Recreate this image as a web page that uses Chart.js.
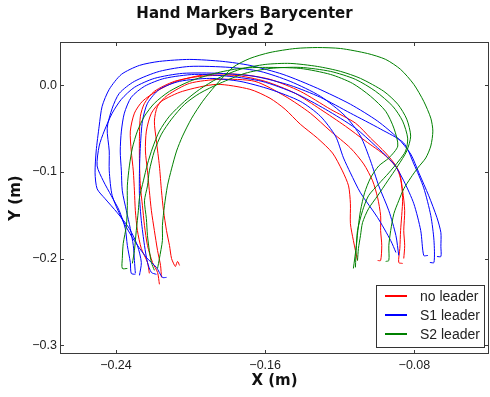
<!DOCTYPE html>
<html><head><meta charset="utf-8">
<script src="https://cdn.jsdelivr.net/npm/chart.js@4.4.1/dist/chart.umd.min.js"></script>
<style>html,body{margin:0;padding:0;background:#fff;}</style>
</head><body>
<canvas id="c" width="490" height="397" style="display:block;width:490px;height:397px"></canvas>
<script>
// ---- Data (metres) ----
const chartTitle = ['Hand Markers Barycenter', 'Dyad 2'];
const legendLabels = ['no leader', 'S1 leader', 'S2 leader'];
const xTicks = [-0.24, -0.16, -0.08];
const yTicks = [-0.3, -0.2, -0.1, 0.0];

const noLeaderX = [
  [-0.2156,-0.2161,-0.2177,-0.2194,-0.2210,-0.2221,-0.2231,-0.2242,-0.2237,-0.2210,-0.2156,-0.2043,-0.1860,-0.1682,-0.1574,-0.1493,-0.1412,-0.1320,-0.1239,-0.1186,-0.1153,-0.1143,-0.1143,-0.1127,-0.1105],
  [-0.2059,-0.2070,-0.2081,-0.2086,-0.2102,-0.2113,-0.2129,-0.2145,-0.2156,-0.2167,-0.2183,-0.2194,-0.2177,-0.2124,-0.2005,-0.1843,-0.1655,-0.1493,-0.1358,-0.1250,-0.1143,-0.1072,-0.1024,-0.0997,-0.0981,-0.0981,-0.0975,-0.0981,-0.0997],
  [-0.2221,-0.2231,-0.2264,-0.2285,-0.2296,-0.2301,-0.2307,-0.2318,-0.2323,-0.2301,-0.2258,-0.2183,-0.2075,-0.1913,-0.1735,-0.1574,-0.1412,-0.1250,-0.1116,-0.1035,-0.0954,-0.0899,-0.0874,-0.0863,-0.0868,-0.0874,-0.0878,-0.0884,-0.0863],
  [-0.2167,-0.2177,-0.2204,-0.2231,-0.2247,-0.2258,-0.2269,-0.2274,-0.2274,-0.2269,-0.2247,-0.2194,-0.2086,-0.1951,-0.1763,-0.1600,-0.1439,-0.1304,-0.1170,-0.1062,-0.0954,-0.0884,-0.0863,-0.0852,-0.0857,-0.0852,-0.0857]
];
const noLeaderY = [
  [-0.2216,-0.2078,-0.1906,-0.1676,-0.1447,-0.1217,-0.0987,-0.0758,-0.0528,-0.0321,-0.0184,-0.0069,0.0011,-0.0046,-0.0149,-0.0276,-0.0448,-0.0609,-0.0781,-0.0987,-0.1160,-0.1366,-0.1596,-0.1791,-0.2021],
  [-0.2078,-0.2032,-0.2090,-0.2078,-0.1998,-0.1848,-0.1676,-0.1447,-0.1217,-0.0930,-0.0643,-0.0413,-0.0241,-0.0115,0.0023,0.0069,0.0046,-0.0126,-0.0321,-0.0528,-0.0723,-0.0907,-0.1102,-0.1297,-0.1504,-0.1676,-0.1848,-0.2021,-0.2021],
  [-0.2170,-0.2044,-0.1883,-0.1676,-0.1447,-0.1217,-0.0987,-0.0758,-0.0528,-0.0321,-0.0184,-0.0069,0.0046,0.0126,0.0126,0.0069,-0.0069,-0.0276,-0.0436,-0.0609,-0.0781,-0.0930,-0.1079,-0.1297,-0.1504,-0.1676,-0.1883,-0.2044,-0.2055],
  [-0.2296,-0.2159,-0.2044,-0.1848,-0.1619,-0.1389,-0.1160,-0.0873,-0.0586,-0.0356,-0.0207,-0.0069,0.0046,0.0103,0.0115,0.0046,-0.0092,-0.0276,-0.0471,-0.0643,-0.0815,-0.0987,-0.1217,-0.1447,-0.1676,-0.1848,-0.1998]
];

const s1LeaderX = [
  [-0.2274,-0.2264,-0.2285,-0.2328,-0.2393,-0.2458,-0.2501,-0.2512,-0.2506,-0.2490,-0.2474,-0.2436,-0.2371,-0.2274,-0.2167,-0.2005,-0.1827,-0.1682,-0.1504,-0.1320,-0.1143,-0.0997,-0.0889,-0.0820,-0.0776,-0.0723,-0.0679,-0.0658,-0.0658,-0.0658,-0.0679],
  [-0.2296,-0.2318,-0.2323,-0.2339,-0.2350,-0.2382,-0.2425,-0.2468,-0.2501,-0.2490,-0.2463,-0.2420,-0.2371,-0.2301,-0.2194,-0.2043,-0.1843,-0.1655,-0.1466,-0.1304,-0.1143,-0.0981,-0.0857,-0.0803,-0.0750,-0.0712,-0.0695,-0.0695,-0.0717],
  [-0.2296,-0.2301,-0.2307,-0.2323,-0.2344,-0.2366,-0.2371,-0.2377,-0.2371,-0.2355,-0.2318,-0.2247,-0.2140,-0.1978,-0.1789,-0.1617,-0.1439,-0.1277,-0.1116,-0.1008,-0.0910,-0.0857,-0.0803,-0.0766,-0.0750,-0.0728],
  [-0.2183,-0.2210,-0.2231,-0.2247,-0.2264,-0.2274,-0.2274,-0.2269,-0.2258,-0.2231,-0.2167,-0.2059,-0.1897,-0.1735,-0.1574,-0.1412,-0.1304,-0.1223,-0.1180,-0.1143,-0.1089,-0.0997,-0.0927,-0.0899],
  [-0.2129,-0.2151,-0.2183,-0.2237,-0.2312,-0.2371,-0.2420,-0.2436,-0.2436,-0.2447,-0.2420,-0.2382,-0.2301,-0.2167,-0.2005,-0.1789,-0.1627,-0.1466,-0.1304,-0.1170,-0.1089,-0.1035,-0.0991,-0.0937,-0.0899,-0.0884]
];
const s1LeaderY = [
  [-0.2193,-0.2044,-0.1848,-0.1653,-0.1470,-0.1309,-0.1194,-0.1010,-0.0758,-0.0471,-0.0241,-0.0046,0.0126,0.0230,0.0276,0.0299,0.0276,0.0230,0.0126,-0.0034,-0.0218,-0.0413,-0.0609,-0.0792,-0.1010,-0.1274,-0.1527,-0.1699,-0.1860,-0.1975,-0.1975],
  [-0.2181,-0.2170,-0.2044,-0.1848,-0.1653,-0.1447,-0.1274,-0.1102,-0.0930,-0.0700,-0.0528,-0.0321,-0.0161,-0.0023,0.0080,0.0138,0.0138,0.0103,0.0000,-0.0138,-0.0321,-0.0505,-0.0666,-0.0907,-0.1183,-0.1504,-0.1791,-0.2044,-0.2044],
  [-0.2170,-0.2021,-0.1848,-0.1653,-0.1447,-0.1217,-0.0987,-0.0758,-0.0528,-0.0321,-0.0138,-0.0011,0.0080,0.0126,0.0103,0.0046,-0.0092,-0.0276,-0.0494,-0.0700,-0.0907,-0.1102,-0.1366,-0.1676,-0.1963,-0.1963],
  [-0.2181,-0.2159,-0.2044,-0.1848,-0.1561,-0.1274,-0.0987,-0.0700,-0.0413,-0.0207,-0.0046,0.0046,0.0080,0.0046,-0.0046,-0.0184,-0.0356,-0.0586,-0.0838,-0.1010,-0.1240,-0.1527,-0.1791,-0.1929],
  [-0.2216,-0.2216,-0.2101,-0.1986,-0.1757,-0.1527,-0.1274,-0.0987,-0.0758,-0.0494,-0.0264,-0.0092,0.0046,0.0161,0.0218,0.0207,0.0161,0.0046,-0.0126,-0.0356,-0.0586,-0.0873,-0.1160,-0.1447,-0.1734,-0.1963]
];

const s2LeaderX = [
  [-0.2177,-0.2167,-0.2151,-0.2151,-0.2140,-0.2124,-0.2102,-0.2075,-0.2043,-0.1994,-0.1935,-0.1870,-0.1773,-0.1682,-0.1574,-0.1439,-0.1320,-0.1196,-0.1051,-0.0954,-0.0874,-0.0803,-0.0750,-0.0712,-0.0701,-0.0712,-0.0739,-0.0782,-0.0820,-0.0857,-0.0884,-0.0910,-0.0927,-0.0937,-0.0937,-0.0954],
  [-0.2312,-0.2301,-0.2291,-0.2280,-0.2274,-0.2253,-0.2231,-0.2204,-0.2167,-0.2113,-0.2032,-0.1951,-0.1854,-0.1735,-0.1600,-0.1466,-0.1320,-0.1196,-0.1089,-0.0964,-0.0889,-0.0841,-0.0820,-0.0841,-0.0889,-0.0943,-0.0997,-0.1046,-0.1078,-0.1089,-0.1100,-0.1105],
  [-0.2339,-0.2366,-0.2366,-0.2361,-0.2344,-0.2339,-0.2339,-0.2328,-0.2312,-0.2285,-0.2247,-0.2194,-0.2113,-0.2005,-0.1870,-0.1735,-0.1600,-0.1412,-0.1250,-0.1132,-0.1035,-0.0954,-0.0910,-0.0889,-0.0937,-0.0991,-0.1035,-0.1067,-0.1089,-0.1100,-0.1111,-0.1116],
  [-0.2194,-0.2210,-0.2221,-0.2231,-0.2237,-0.2247,-0.2231,-0.2221,-0.2194,-0.2156,-0.2102,-0.2032,-0.1951,-0.1843,-0.1709,-0.1574,-0.1412,-0.1250,-0.1116,-0.1008,-0.0916,-0.0863,-0.0836,-0.0847,-0.0884,-0.0937,-0.0991,-0.1046,-0.1078,-0.1105,-0.1111,-0.1127]
];
const s2LeaderY = [
  [-0.2113,-0.1998,-0.1791,-0.1619,-0.1389,-0.1160,-0.0964,-0.0758,-0.0586,-0.0379,-0.0184,-0.0011,0.0207,0.0310,0.0379,0.0425,0.0436,0.0425,0.0367,0.0299,0.0184,0.0011,-0.0184,-0.0379,-0.0528,-0.0700,-0.0838,-0.0953,-0.1068,-0.1194,-0.1332,-0.1481,-0.1676,-0.1848,-0.2021,-0.2032],
  [-0.2055,-0.1906,-0.1676,-0.1447,-0.1297,-0.1102,-0.0907,-0.0723,-0.0528,-0.0356,-0.0184,-0.0046,0.0080,0.0184,0.0241,0.0253,0.0218,0.0161,0.0080,-0.0069,-0.0218,-0.0390,-0.0586,-0.0758,-0.0930,-0.1102,-0.1274,-0.1424,-0.1584,-0.1734,-0.1883,-0.2021],
  [-0.2113,-0.2113,-0.1998,-0.1825,-0.1619,-0.1389,-0.1160,-0.0930,-0.0723,-0.0528,-0.0356,-0.0207,-0.0069,0.0046,0.0138,0.0195,0.0207,0.0195,0.0126,0.0023,-0.0126,-0.0299,-0.0494,-0.0700,-0.0838,-0.0930,-0.1068,-0.1240,-0.1447,-0.1619,-0.1848,-0.2101],
  [-0.2135,-0.2044,-0.1906,-0.1734,-0.1538,-0.1332,-0.1160,-0.0987,-0.0758,-0.0563,-0.0390,-0.0218,-0.0092,0.0023,0.0138,0.0195,0.0207,0.0161,0.0069,-0.0069,-0.0241,-0.0413,-0.0609,-0.0758,-0.0873,-0.1010,-0.1137,-0.1274,-0.1447,-0.1676,-0.1848,-0.2113]
];

// ---- Styles ----
const colors = ['#ff0000', '#0000ff', '#008000'];

function buildSets(xs, ys, color, label) {
  return xs.map((xa, i) => ({
    label: label,
    data: xa.map((x, j) => ({ x: x, y: ys[i][j] })),
    borderColor: color,
    borderWidth: 1,
    pointRadius: 0,
    showLine: true,
    fill: false,
    tension: 0.25
  }));
}
const datasets = [].concat(
  buildSets(s2LeaderX, s2LeaderY, colors[2], legendLabels[2]),
  buildSets(s1LeaderX, s1LeaderY, colors[1], legendLabels[1]),
  buildSets(noLeaderX, noLeaderY, colors[0], legendLabels[0])
);

const frameAndLegend = {
  id: 'frameAndLegend',
  afterDraw(chart) {
    const ctx = chart.ctx;
    const a = chart.chartArea;
    const xs = chart.scales.x, ys = chart.scales.y;
    ctx.save();
    ctx.strokeStyle = '#3a3a3a';
    ctx.lineWidth = 1;
    ctx.strokeRect(Math.round(a.left) + 0.5, Math.round(a.top) + 0.5, Math.round(a.right - a.left) - 1, Math.round(a.bottom - a.top) - 1);
    ctx.beginPath();
    xTicks.forEach(v => {
      const px = Math.round(xs.getPixelForValue(v)) + 0.5;
      ctx.moveTo(px, a.bottom); ctx.lineTo(px, a.bottom - 4);
      ctx.moveTo(px, a.top); ctx.lineTo(px, a.top + 4);
    });
    yTicks.forEach(v => {
      const py = Math.round(ys.getPixelForValue(v)) + 0.5;
      ctx.moveTo(a.left, py); ctx.lineTo(a.left + 4, py);
      ctx.moveTo(a.right, py); ctx.lineTo(a.right - 4, py);
    });
    ctx.stroke();
    // legend box (lower right, inside plot)
    const bx = 376.5, by = 285.5, bw = 108, bh = 62;
    ctx.fillStyle = '#ffffff';
    ctx.fillRect(bx, by, bw, bh);
    ctx.strokeStyle = '#333';
    ctx.strokeRect(bx, by, bw, bh);
    ctx.font = '14px "Liberation Sans", Arial, sans-serif';
    ctx.textBaseline = 'middle';
    ctx.textAlign = 'left';
    legendLabels.forEach((lab, i) => {
      const ly = 296 + i * 19;
      ctx.strokeStyle = colors[i];
      ctx.lineWidth = 2;
      ctx.beginPath(); ctx.moveTo(385, ly); ctx.lineTo(407, ly); ctx.stroke();
      ctx.fillStyle = '#222';
      ctx.fillText(lab, 420, ly + 1);
    });
    ctx.restore();
  }
};

new Chart(document.getElementById('c'), {
  type: 'scatter',
  data: { datasets: datasets },
  options: {
    responsive: false,
    animation: false,
    devicePixelRatio: 1,
    layout: { padding: { left: 0, right: 1, top: 0, bottom: 0 } },
    plugins: {
      legend: { display: false },
      tooltip: { enabled: false },
      title: {
        display: true,
        text: chartTitle,
        color: '#111',
        font: { family: '"DejaVu Sans", sans-serif', size: 15, weight: 'bold', lineHeight: 17 / 15 },
        padding: { top: 6, bottom: 2 }
      }
    },
    scales: {
      x: {
        type: 'linear', min: -0.27, max: -0.04,
        afterBuildTicks: s => { s.ticks = xTicks.map(v => ({ value: v })); },
        afterFit: s => { s.height = 43; },
        grid: { display: false, drawTicks: false },
        border: { display: false },
        ticks: {
          padding: 4, color: '#222',
          font: { family: '"Liberation Sans", Arial, sans-serif', size: 12.5 },
          callback: v => (v < 0 ? '\u2212' : '') + Math.abs(v).toFixed(2)
        },
        title: {
          display: true, text: 'X (m)', color: '#111',
          font: { family: '"DejaVu Sans", sans-serif', size: 15, weight: 'bold', lineHeight: 1.2 },
          padding: { top: 0, bottom: 6.5 }
        }
      },
      y: {
        type: 'linear', min: -0.31, max: 0.05,
        afterBuildTicks: s => { s.ticks = yTicks.map(v => ({ value: v })); },
        afterFit: s => { s.width = 60; },
        grid: { display: false, drawTicks: false },
        border: { display: false },
        ticks: {
          padding: 3, color: '#222',
          font: { family: '"Liberation Sans", Arial, sans-serif', size: 12.5 },
          callback: v => (v < 0 ? '\u2212' : '') + Math.abs(v).toFixed(1)
        },
        title: {
          display: true, text: 'Y (m)', color: '#111',
          font: { family: '"DejaVu Sans", sans-serif', size: 15, weight: 'bold', lineHeight: 1.2 },
          padding: { top: 7.5, bottom: 0 }
        }
      }
    }
  },
  plugins: [frameAndLegend]
});
</script>
</body></html>
